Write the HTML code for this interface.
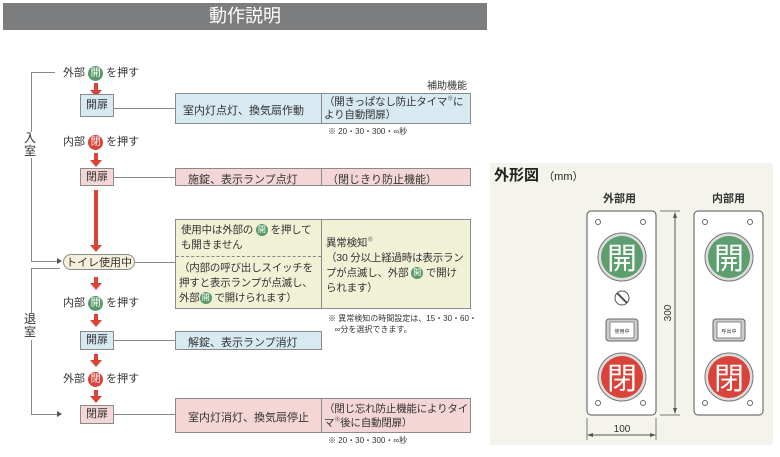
<!DOCTYPE html>
<html><head><meta charset="utf-8"><style>
body{margin:0;width:780px;height:457px;background:#fff;position:relative;overflow:hidden;font-family:"Liberation Sans","Noto Sans CJK JP",sans-serif;color:#333}
.a{position:absolute}
.t{font-size:11px;white-space:nowrap}
.g,.r{display:inline-block;width:15px;height:15px;border-radius:50%;color:#fff;font-size:10px;line-height:15px;text-align:center;vertical-align:middle}
.g{background:#5a9a6a}.r{background:#d9433a}
.box{position:absolute;border:1px solid #8a8a8a;box-sizing:border-box;font-size:11px}
.bl{background:#d7e9f1}.pk{background:#f4d6d6}.yl{background:#f1f1d6}
.ln{position:absolute;background:#888}
.arr{position:absolute;width:0;height:0;border-left:6px solid transparent;border-right:6px solid transparent;border-top:7px solid #d9433a}
.sh{position:absolute;width:4px;background:#d9433a}
.w{font-size:10.5px;letter-spacing:-0.2px;word-break:break-all}
.sg{display:inline-block;width:12px;height:12px;border-radius:50%;background:#5a9a6a;color:#fff;font-size:8px;line-height:12px;text-align:center;vertical-align:middle}
</style></head><body>
<div class="a" style="left:3px;top:3px;width:484px;height:27px;background:#7b7d7e;color:#fff;font-size:18px;text-align:center;line-height:27px">動作説明</div>

<div class="ln" style="left:31px;top:72px;width:1px;height:60px"></div>
<div class="ln" style="left:31px;top:72px;width:24px;height:1px"></div>
<div class="a t" style="left:24px;top:132px;width:14px;line-height:13px;font-size:12px">入<br>室</div>
<div class="ln" style="left:31px;top:158px;width:1px;height:104px"></div>
<div class="ln" style="left:31px;top:261px;width:26px;height:1px"></div>
<div class="a" style="left:57px;top:258px;border-left:5px solid #555;border-top:3px solid transparent;border-bottom:3px solid transparent"></div>
<div class="ln" style="left:31px;top:268px;width:29px;height:1px"></div>
<div class="ln" style="left:31px;top:268px;width:1px;height:45px"></div>
<div class="a t" style="left:24px;top:313px;width:14px;line-height:13px;font-size:12px">退<br>室</div>
<div class="ln" style="left:31px;top:340px;width:1px;height:74px"></div>
<div class="ln" style="left:31px;top:414px;width:26px;height:1px"></div>
<div class="a" style="left:57px;top:411px;border-left:5px solid #555;border-top:3px solid transparent;border-bottom:3px solid transparent"></div>

<div class="a t" style="left:63px;top:64px">外部 <span class="g">開</span> を押す</div>
<div class="sh" style="left:94px;top:83px;height:8px"></div><div class="arr" style="left:90px;top:90px"></div>
<div class="box bl" style="left:80px;top:94px;width:34px;height:23px;text-align:center;line-height:21px">開扉</div>
<div class="ln" style="left:114px;top:108px;width:61px;height:1px"></div>
<div class="a t" style="left:427px;top:77px;font-size:10px">補助機能</div>
<div class="box bl" style="left:175px;top:93px;width:296px;height:31px"><div class="a" style="left:7px;top:8px">室内灯点灯、換気扇作動</div><div class="a" style="left:145px;top:0;width:1px;height:29px;background:#8a8a8a"></div><div class="a w" style="left:148px;top:2px;line-height:13px;width:146px">（開きっぱなし防止タイマ<sup style="font-size:6px;line-height:0">※</sup>により自動閉扉）</div></div>
<div class="a t" style="left:328px;top:126px;font-size:8px">※ 20・30・300・∞秒</div>

<div class="a t" style="left:63px;top:133px">内部 <span class="r">閉</span> を押す</div>
<div class="sh" style="left:94px;top:153px;height:8px"></div><div class="arr" style="left:90px;top:160px"></div>
<div class="box pk" style="left:80px;top:168px;width:34px;height:18px;text-align:center;line-height:16px">閉扉</div>
<div class="ln" style="left:114px;top:177px;width:61px;height:1px"></div>
<div class="box pk" style="left:175px;top:168px;width:296px;height:18px"><div class="a" style="left:12px;top:2px">施錠、表示ランプ点灯</div><div class="a" style="left:145px;top:0;width:1px;height:16px;background:#8a8a8a"></div><div class="a" style="left:151px;top:2px">（閉じきり防止機能）</div></div>
<div class="sh" style="left:94px;top:190px;height:56px"></div><div class="arr" style="left:90px;top:245px"></div>

<div class="box yl" style="left:175px;top:219px;width:296px;height:90px">
<div class="a w" style="left:5px;top:3px;line-height:15px;width:138px">使用中は外部の <span class="sg">開</span> を押しても開きません</div>
<div class="a" style="left:0;top:36px;width:145px;border-top:1px dashed #888"></div>
<div class="a w" style="left:3px;top:41px;line-height:15px;width:140px">（内部の呼び出しスイッチを押すと表示ランプが点滅し、外部<span class="sg">開</span> で開けられます）</div>
<div class="a" style="left:145px;top:0;width:1px;height:88px;background:#8a8a8a"></div>
<div class="a w" style="left:150px;top:16px;line-height:15px;width:140px">異常検知<sup style="font-size:6px;line-height:0">※</sup><br>（30 分以上経過時は表示ランプが点滅し、外部 <span class="sg">開</span> で開けられます）</div>
</div>
<div class="a t" style="left:63px;top:254px;width:72px;height:16px;border:1px solid #888;border-radius:9px;background:#f4f0dc;text-align:center;line-height:16px;box-sizing:border-box">トイレ使用中</div>
<div class="ln" style="left:135px;top:262px;width:40px;height:1px"></div>
<div class="a t" style="left:328px;top:313px;font-size:8px;line-height:11px">※ 異常検知の時間設定は、15・30・60・<br>&nbsp;&nbsp;&nbsp;∞分を選択できます。</div>

<div class="sh" style="left:94px;top:277px;height:7px"></div><div class="arr" style="left:90px;top:283px"></div>
<div class="a t" style="left:63px;top:294px">内部 <span class="g">開</span> を押す</div>
<div class="sh" style="left:94px;top:314px;height:7px"></div><div class="arr" style="left:90px;top:320px"></div>
<div class="box bl" style="left:80px;top:331px;width:34px;height:19px;text-align:center;line-height:17px">開扉</div>
<div class="ln" style="left:114px;top:340px;width:61px;height:1px"></div>
<div class="box bl" style="left:175px;top:331px;width:147px;height:19px"><div class="a" style="left:12px;top:2px">解錠、表示ランプ消灯</div></div>
<div class="sh" style="left:94px;top:354px;height:7px"></div><div class="arr" style="left:90px;top:360px"></div>
<div class="a t" style="left:63px;top:370px">外部 <span class="r">閉</span> を押す</div>
<div class="sh" style="left:94px;top:390px;height:7px"></div><div class="arr" style="left:90px;top:396px"></div>
<div class="box pk" style="left:80px;top:405px;width:34px;height:19px;text-align:center;line-height:17px">閉扉</div>
<div class="ln" style="left:114px;top:414px;width:61px;height:1px"></div>
<div class="box pk" style="left:175px;top:398px;width:296px;height:35px"><div class="a" style="left:12px;top:10px">室内灯消灯、換気扇停止</div><div class="a" style="left:145px;top:0;width:1px;height:33px;background:#8a8a8a"></div><div class="a w" style="left:148px;top:3px;line-height:14px;width:146px">（閉じ忘れ防止機能によりタイマ<sup style="font-size:6px;line-height:0">※</sup>後に自動閉扉）</div></div>
<div class="a t" style="left:328px;top:435px;font-size:8px">※ 20・30・300・∞秒</div>

<div class="a" style="left:490px;top:163px;width:283px;height:282px;background:#f4f4ec"></div>
<div class="a" style="left:494px;top:164px;font-size:15px;font-weight:bold;color:#222">外形図 <span style="font-size:11px;font-weight:normal">（mm）</span></div>
<div class="a t" style="left:603px;top:190px;font-weight:bold">外部用</div>
<div class="a t" style="left:712px;top:190px;font-weight:bold">内部用</div>
<svg class="a" style="left:0;top:0" width="780" height="457">
<g font-family="Liberation Sans,Noto Sans CJK JP,sans-serif">
<g id="p1">
<rect x="587" y="211" width="69" height="204" rx="4" fill="#fff" stroke="#555"/>
<circle cx="622" cy="257" r="24" fill="#ddd" stroke="#777"/><circle cx="622" cy="257" r="21" fill="#5c9e6e"/>
<text x="622" y="269" font-size="30" fill="#fff" text-anchor="middle">開</text>
<circle cx="622" cy="377" r="24" fill="#ddd" stroke="#777"/><circle cx="622" cy="377" r="21" fill="#d9433a"/>
<text x="622" y="389" font-size="30" fill="#fff" text-anchor="middle">閉</text>
<g fill="none" stroke="#666"><circle cx="598" cy="222" r="2.5"/><circle cx="643" cy="222" r="2.5"/><circle cx="598" cy="403" r="2.5"/><circle cx="643" cy="403" r="2.5"/></g>
</g>
<circle cx="622" cy="298" r="7" fill="#fff" stroke="#555"/><line x1="617" y1="293" x2="627" y2="303" stroke="#555" stroke-width="2"/>
<rect x="606" y="319" width="32" height="22" rx="3" fill="#ccc" stroke="#666"/><rect x="610" y="322" width="24" height="16" fill="#fff" stroke="#888"/>
<text x="622" y="333" font-size="5" text-anchor="middle" fill="#333">使用中</text>
<use href="#p1" x="107"/>
<rect x="713" y="319" width="32" height="22" rx="3" fill="#ccc" stroke="#666"/><rect x="717" y="322" width="24" height="16" fill="#fff" stroke="#888"/>
<text x="729" y="333" font-size="5" text-anchor="middle" fill="#333">呼出中</text>
<line x1="660" y1="211" x2="680" y2="211" stroke="#777"/><line x1="660" y1="415" x2="680" y2="415" stroke="#777"/>
<line x1="675" y1="213" x2="675" y2="413" stroke="#555"/>
<path d="M675 212 l-2 6 h4z M675 414 l-2 -6 h4z" fill="#555"/>
<text x="0" y="0" font-size="10" fill="#333" text-anchor="middle" transform="translate(671,313) rotate(-90)">300</text>
<line x1="587" y1="418" x2="587" y2="440" stroke="#777"/><line x1="656" y1="418" x2="656" y2="440" stroke="#777"/>
<line x1="588" y1="435" x2="655" y2="435" stroke="#555"/>
<path d="M587 435 l6 -2 v4z M656 435 l-6 -2 v4z" fill="#555"/>
<text x="622" y="432" font-size="10" fill="#333" text-anchor="middle">100</text>
</g></svg>
</body></html>
